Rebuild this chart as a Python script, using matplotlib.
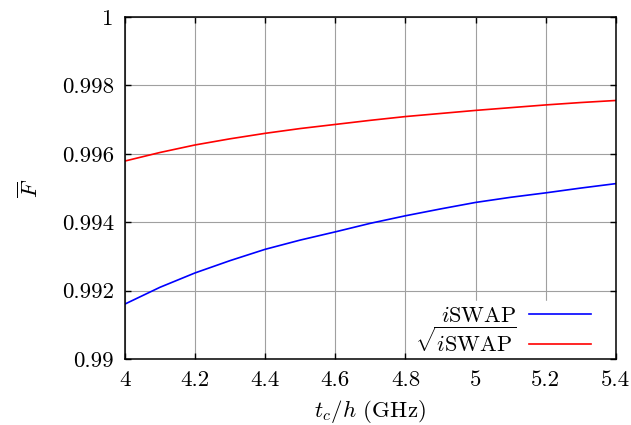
import matplotlib
matplotlib.use("Agg")
from matplotlib import pyplot as plt

# data
tc = [4.0, 4.1, 4.2, 4.3, 4.4, 4.5, 4.6, 4.7, 4.8, 4.9, 5.0, 5.1, 5.2, 5.3, 5.4]
f_iswap = [0.99161, 0.99210, 0.99252, 0.99288, 0.99321, 0.99348, 0.99372, 0.99397,
           0.99419, 0.99439, 0.99458, 0.99473, 0.99486, 0.99500, 0.99513]
f_sqrt_iswap = [0.99579, 0.99604, 0.99626, 0.99644, 0.99660, 0.99674, 0.99686, 0.99698,
                0.99709, 0.99718, 0.99727, 0.99735, 0.99743, 0.99750, 0.99756]

x_ticks = [4.0, 4.2, 4.4, 4.6, 4.8, 5.0, 5.2, 5.4]
x_labels = ["4", "4.2", "4.4", "4.6", "4.8", "5", "5.2", "5.4"]
y_ticks = [0.990, 0.992, 0.994, 0.996, 0.998, 1.0]
y_labels = ["0.99", "0.992", "0.994", "0.996", "0.998", "1"]

plt.rcParams['font.family'] = 'serif'
plt.rcParams['font.serif'] = ['cmr10']
plt.rcParams['mathtext.fontset'] = 'cm'
plt.rcParams['axes.unicode_minus'] = False

fig = plt.figure(figsize=(6.31, 4.25), dpi=100)
ax = fig.add_axes([0.198, 0.155, 0.778, 0.805])

ax.plot(tc, f_iswap, color='#0000ff', lw=1.2, label=r'$i$SWAP')
ax.plot(tc, f_sqrt_iswap, color='#ff0000', lw=1.2, label=r'$\sqrt{i\mathrm{SWAP}}$')

ax.set_xlim(4.0, 5.4)
ax.set_ylim(0.99, 1.0)
ax.set_xticks(x_ticks)
ax.set_xticklabels(x_labels)
ax.set_yticks(y_ticks)
ax.set_yticklabels(y_labels)
ax.tick_params(direction='in', length=4, width=1.0, labelsize=16.5, pad=8,
               top=True, right=True)
ax.grid(True, color='#a0a0a0', lw=0.8)
for s in ax.spines.values():
    s.set_linewidth(1.1)

ax.set_xlabel(r'$t_c/h$ (GHz)', fontsize=16.5, labelpad=6)
ax.set_ylabel(r'$\overline{F}$', fontsize=16.5, labelpad=14)

leg = ax.legend(loc='lower right', bbox_to_anchor=(0.982, -0.035), markerfirst=False,
                fontsize=16, frameon=True, fancybox=False, framealpha=1,
                edgecolor='white', handlelength=2.8, handletextpad=0.6,
                labelspacing=0.02, borderpad=0.2)
leg.set_zorder(2.2)  # keep the white box under the spines

plt.savefig("out.png", dpi=100)
